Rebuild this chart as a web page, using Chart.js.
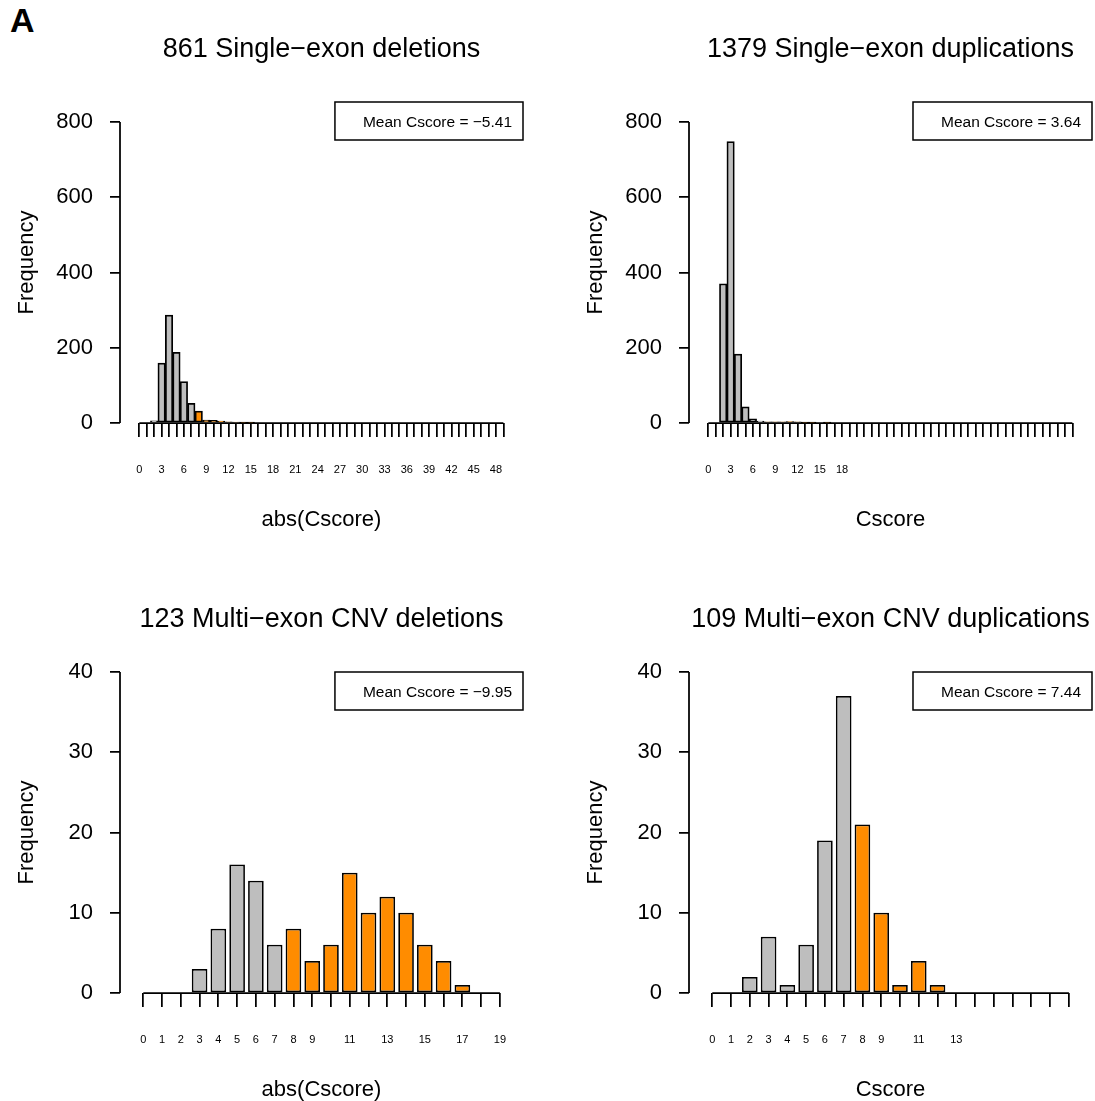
<!DOCTYPE html>
<html>
<head>
<meta charset="utf-8">
<script src="https://cdn.jsdelivr.net/npm/chart.js@4.4.1/dist/chart.umd.min.js"></script>
<style>
  body { margin: 0; background: #fff; width: 1095px; height: 1101px; position: relative; overflow: hidden;
         font-family: "Liberation Sans", Arial, sans-serif; }
  .panel { position: absolute; width: 526px; height: 550px; }
  #tag { position: absolute; left: 10px; top: 3px; font-size: 34px; line-height: 1; font-weight: bold; }
</style>
</head>
<body>
<div id="tag">A</div>
<div class="panel" style="left:0;top:0"><canvas id="delSingle" width="526" height="550"></canvas></div>
<div class="panel" style="left:569px;top:0"><canvas id="dupSingle" width="526" height="550"></canvas></div>
<div class="panel" style="left:0;top:570px"><canvas id="delMulti" width="526" height="550"></canvas></div>
<div class="panel" style="left:569px;top:570px"><canvas id="dupMulti" width="526" height="550"></canvas></div>
<script>
// bins of |Cscore| / Cscore (one bar per unit)
const singleBins = [0, 1, 2, 3, 4, 5, 6, 7, 8, 9, 10, 11, 12, 13, 14, 15, 16, 17, 18, 19,
  20, 21, 22, 23, 24, 25, 26, 27, 28, 29, 30, 31, 32, 33, 34, 35, 36, 37, 38, 39,
  40, 41, 42, 43, 44, 45, 46, 47, 48, 49];
const multiBins = [0, 1, 2, 3, 4, 5, 6, 7, 8, 9, 10, 11, 12, 13, 14, 15, 16, 17, 18, 19];

// counts
const singleDelCounts = [0, 0, 6, 159, 287, 188, 110, 52, 32, 8, 7, 5, 3, 2, 1, 1, 0, 0, 0, 0,
  0, 0, 0, 0, 0, 0, 0, 0, 0, 0, 0, 0, 0, 0, 0, 0, 0, 0, 0, 0,
  0, 0, 0, 0, 0, 0, 0, 0, 0, 0];
const singleDupCounts = [0, 0, 370, 748, 183, 43, 11, 5, 3, 3, 3, 4, 3, 1, 1, 0, 1, 0, 0, 0,
  0, 0, 0, 0, 0, 0, 0, 0, 0, 0, 0, 0, 0, 0, 0, 0, 0, 0, 0, 0,
  0, 0, 0, 0, 0, 0, 0, 0, 0, 0];
const multiDelCounts = [0, 0, 0, 3, 8, 16, 14, 6, 8, 4, 6, 15, 10, 12, 10, 6, 4, 1, 0, 0];
const multiDupCounts = [0, 0, 2, 7, 1, 6, 19, 37, 21, 10, 1, 4, 1, 0, 0, 0, 0, 0, 0, 0];

// tick labels that are printed under the axis
const singleDelLabels = [0, 3, 6, 9, 12, 15, 18, 21, 24, 27, 30, 33, 36, 39, 42, 45, 48];
const singleDupLabels = [0, 3, 6, 9, 12, 15, 18];
const multiDelLabels = [0, 1, 2, 3, 4, 5, 6, 7, 8, 9, 11, 13, 15, 17, 19];
const multiDupLabels = [0, 1, 2, 3, 4, 5, 6, 7, 8, 9, 11, 13];

const singleYTicks = [0, 200, 400, 600, 800];
const multiYTicks = [0, 10, 20, 30, 40];

const titles = ["861 Single\u2212exon deletions", "1379 Single\u2212exon duplications",
  "123 Multi\u2212exon CNV deletions", "109 Multi\u2212exon CNV duplications"];
const xTitles = ["abs(Cscore)", "Cscore", "abs(Cscore)", "Cscore"];
const meanNotes = ["Mean Cscore = \u22125.41", "Mean Cscore = 3.64",
  "Mean Cscore = \u22129.95", "Mean Cscore = 7.44"];

const orangeFrom = 8; // bars from this bin on are highlighted
const GREY = "#bebebe";
const ORANGE = "#ff8c00";
const FONT = '"Liberation Sans", Arial, sans-serif';

Chart.defaults.font.family = FONT;
Chart.defaults.color = "#000";

// R-like axes lines, title and the mean box
const rDecor = {
  id: "rDecor",
  afterDraw(chart, args, opts) {
    const { ctx, chartArea, scales: { x, y } } = chart;
    ctx.save();
    ctx.strokeStyle = "#000";
    ctx.lineWidth = 1.75;
    ctx.beginPath();
    ctx.moveTo(chartArea.left, y.getPixelForValue(opts.yTicks[0]));
    ctx.lineTo(chartArea.left, y.getPixelForValue(opts.yTicks[opts.yTicks.length - 1]));
    ctx.moveTo(x.getPixelForValue(opts.bins[0]), chartArea.bottom);
    ctx.lineTo(x.getPixelForValue(opts.bins[opts.bins.length - 1]), chartArea.bottom);
    ctx.stroke();

    ctx.fillStyle = "#000";
    ctx.textBaseline = "middle";
    ctx.textAlign = "center";
    ctx.font = "27px " + FONT;
    ctx.fillText(opts.title, (chartArea.left + chartArea.right) / 2, 50);

    ctx.lineWidth = 1.5;
    ctx.font = "15.5px " + FONT;
    const w = ctx.measureText(opts.note).width;
    ctx.strokeRect(chartArea.right - w - 39, chartArea.top, w + 39, 38);
    ctx.textAlign = "right";
    ctx.fillText(opts.note, chartArea.right - 11, chartArea.top + 20.5);
    ctx.restore();
  }
};

const noPad = (s) => { s.paddingLeft = 0; s.paddingRight = 0; s.paddingTop = 0; s.paddingBottom = 0; };

function drawPanel(id, bins, counts, labels, yTicks, yMax, xMin, xMax, barFrac, idx) {
  const ctx = document.getElementById(id).getContext("2d");
  return new Chart(ctx, {
    type: "bar",
    data: {
      datasets: [{
        data: bins.map((b, i) => ({ x: b, y: counts[i] })),
        backgroundColor: bins.map((b) => (b >= orangeFrom ? ORANGE : GREY)),
        borderColor: "#000",
        borderWidth: 1.75,
        borderSkipped: false,
        barPercentage: barFrac,
        categoryPercentage: 1
      }]
    },
    options: {
      responsive: false,
      animation: false,
      layout: { padding: { top: 102, right: 3, bottom: 0, left: 0 } },
      plugins: {
        legend: { display: false },
        tooltip: { enabled: false },
        rDecor: { title: titles[idx], note: meanNotes[idx], bins: bins, yTicks: yTicks }
      },
      scales: {
        x: {
          type: "linear",
          min: xMin,
          max: xMax,
          offset: false,
          border: { display: false },
          grid: { offset: false, drawOnChartArea: false, drawTicks: true, tickLength: 14, color: "#000", lineWidth: 1.75 },
          afterBuildTicks: (s) => { s.ticks = bins.map((v) => ({ value: v })); },
          ticks: {
            autoSkip: false, maxRotation: 0, minRotation: 0, padding: 26,
            font: { size: 11 },
            callback: (v) => (labels.includes(v) ? String(v) : "")
          },
          title: { display: true, text: xTitles[idx], font: { size: 22 }, padding: { top: 0, bottom: 17 } },
          afterFit: (s) => { s.height = 127; noPad(s); }
        },
        y: {
          min: 0,
          max: yMax,
          border: { display: false },
          grid: { drawOnChartArea: false, tickLength: 10, color: "#000", lineWidth: 1.75 },
          afterBuildTicks: (s) => { s.ticks = yTicks.map((v) => ({ value: v })); },
          ticks: { padding: 17, font: { size: 22 } },
          title: { display: true, text: "Frequency", font: { size: 22 }, padding: { top: 14, bottom: 0 } },
          afterFit: (s) => { s.width = 120; noPad(s); }
        }
      }
    },
    plugins: [rDecor]
  });
}

drawPanel("delSingle", singleBins, singleDelCounts, singleDelLabels, singleYTicks, 853, -2.6, 51.64, 1, 0);
drawPanel("dupSingle", singleBins, singleDupCounts, singleDupLabels, singleYTicks, 853, -2.6, 51.64, 1, 1);
drawPanel("delMulti", multiBins, multiDelCounts, multiDelLabels, multiYTicks, 40, -1.24, 20.23, 0.833, 2);
drawPanel("dupMulti", multiBins, multiDupCounts, multiDupLabels, multiYTicks, 40, -1.24, 20.23, 0.833, 3);
</script>
</body>
</html>
